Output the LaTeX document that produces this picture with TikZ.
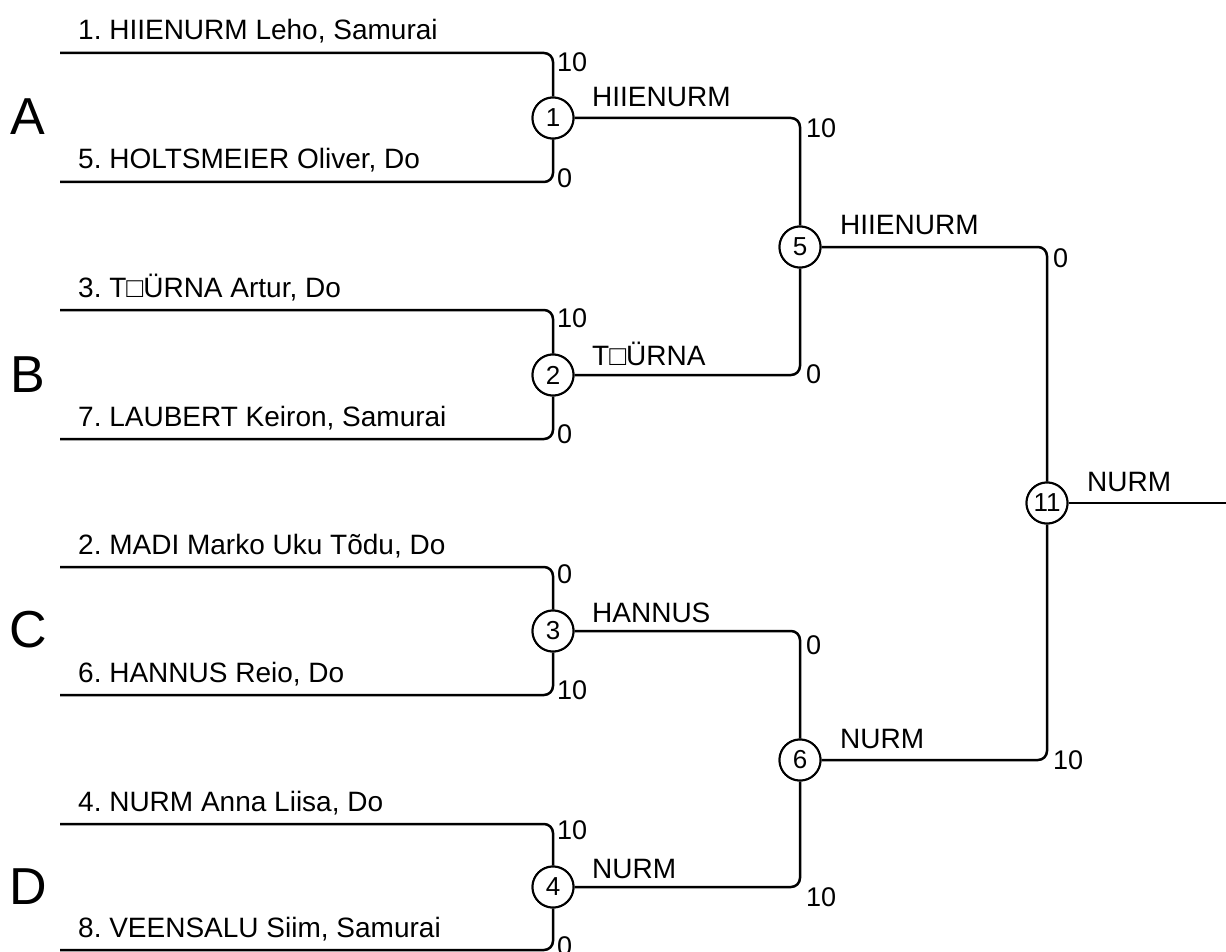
\documentclass[tikz,border=0pt]{standalone}
\usepackage{fontspec}
\setmainfont{Liberation Sans}
\frenchspacing
\begin{document}
\begin{tikzpicture}[x=1pt,y=-1pt,
  br/.style={line width=2.5pt, rounded corners=9pt},
  mc/.style={circle, draw, line width=2pt, minimum size=41pt, inner sep=0pt, fill=white, font=\fontsize{26}{26}\selectfont},
  nm/.style={anchor=base west, inner sep=0pt, font=\fontsize{28}{28}\selectfont},
  sc/.style={anchor=west, inner sep=0pt, font=\fontsize{27}{27}\selectfont},
  grp/.style={inner sep=0pt, font=\fontsize{52}{52}\selectfont}]
\useasboundingbox (0,0) rectangle (1226,952);
% match nodes
\node[mc] (m1) at (553,118) {1};
\node[mc] (m2) at (553,375) {2};
\node[mc] (m3) at (553,631) {3};
\node[mc] (m4) at (553,887) {4};
\node[mc] (m5) at (800,247) {5};
\node[mc] (m6) at (800,760) {6};
\node[mc] (m11) at (1047,503) {11};
% entry points
\coordinate (a1) at (60,53);  \coordinate (a2) at (60,182);
\coordinate (b1) at (60,310); \coordinate (b2) at (60,439);
\coordinate (c1) at (60,567); \coordinate (c2) at (60,695);
\coordinate (d1) at (60,824); \coordinate (d2) at (60,950);
\coordinate (fin) at (1226,503);
% round 1
\draw[br] (a1) -| (m1.north); \draw[br] (a2) -| (m1.south);
\draw[br] (b1) -| (m2.north); \draw[br] (b2) -| (m2.south);
\draw[br] (c1) -| (m3.north); \draw[br] (c2) -| (m3.south);
\draw[br] (d1) -| (m4.north); \draw[br] (d2) -| (m4.south);
% round 2
\draw[br] (m1.east) -| (m5.north); \draw[br] (m2.east) -| (m5.south);
\draw[br] (m3.east) -| (m6.north); \draw[br] (m4.east) -| (m6.south);
% round 3
\draw[br] (m5.east) -| (m11.north); \draw[br] (m6.east) -| (m11.south);
\draw[br] (m11.east) -- (fin);
% redraw circles on top
\node[mc] at (m1) {1}; \node[mc] at (m2) {2}; \node[mc] at (m3) {3}; \node[mc] at (m4) {4};
\node[mc] at (m5) {5}; \node[mc] at (m6) {6}; \node[mc] at (m11) {11};
% group letters
\node[grp] (gA) at (28,117) {A};
\node[grp] (gB) at (28,375) {B};
\node[grp] (gC) at (28,630) {C};
\node[grp] (gD) at (28,887) {D};
% names
\node[nm] (n1) at (78,40) {1. HIIENURM Leho, Samurai};
\node[nm] (n5) at (78,169) {5. HOLTSMEIER Oliver, Do};
\node[nm] (n3) at (78,297) {3. T□ÜRNA Artur, Do};
\node[nm] (n7) at (78,426) {7. LAUBERT Keiron, Samurai};
\node[nm] (n2) at (78,554) {2. MADI Marko Uku Tõdu, Do};
\node[nm] (n6) at (78,682) {6. HANNUS Reio, Do};
\node[nm] (n4) at (78,811) {4. NURM Anna Liisa, Do};
\node[nm] (n8) at (78,937) {8. VEENSALU Siim, Samurai};
% winners
\node[nm] (w1) at (592,107) {HIIENURM};
\node[nm] (w2) at (592,365) {T□ÜRNA};
\node[nm] (w3) at (592,622) {HANNUS};
\node[nm] (w4) at (592,878) {NURM};
\node[nm] (w5) at (840,235) {HIIENURM};
\node[nm] (w6) at (840,748) {NURM};
\node[nm] (w11) at (1087,491) {NURM};
% scores
\node[sc] (s1a) at (557,62) {10};
\node[sc] (s1b) at (557,178) {0};
\node[sc] (s2a) at (557,318) {10};
\node[sc] (s2b) at (557,434) {0};
\node[sc] (s3a) at (557,574) {0};
\node[sc] (s3b) at (557,690) {10};
\node[sc] (s4a) at (557,830) {10};
\node[sc] (s4b) at (557,946) {0};
\node[sc] (s5a) at (806,128) {10};
\node[sc] (s5b) at (806,374) {0};
\node[sc] (s6a) at (806,645) {0};
\node[sc] (s6b) at (806,897) {10};
\node[sc] (s11a) at (1053,258) {0};
\node[sc] (s11b) at (1053,760) {10};
\end{tikzpicture}
\end{document}
